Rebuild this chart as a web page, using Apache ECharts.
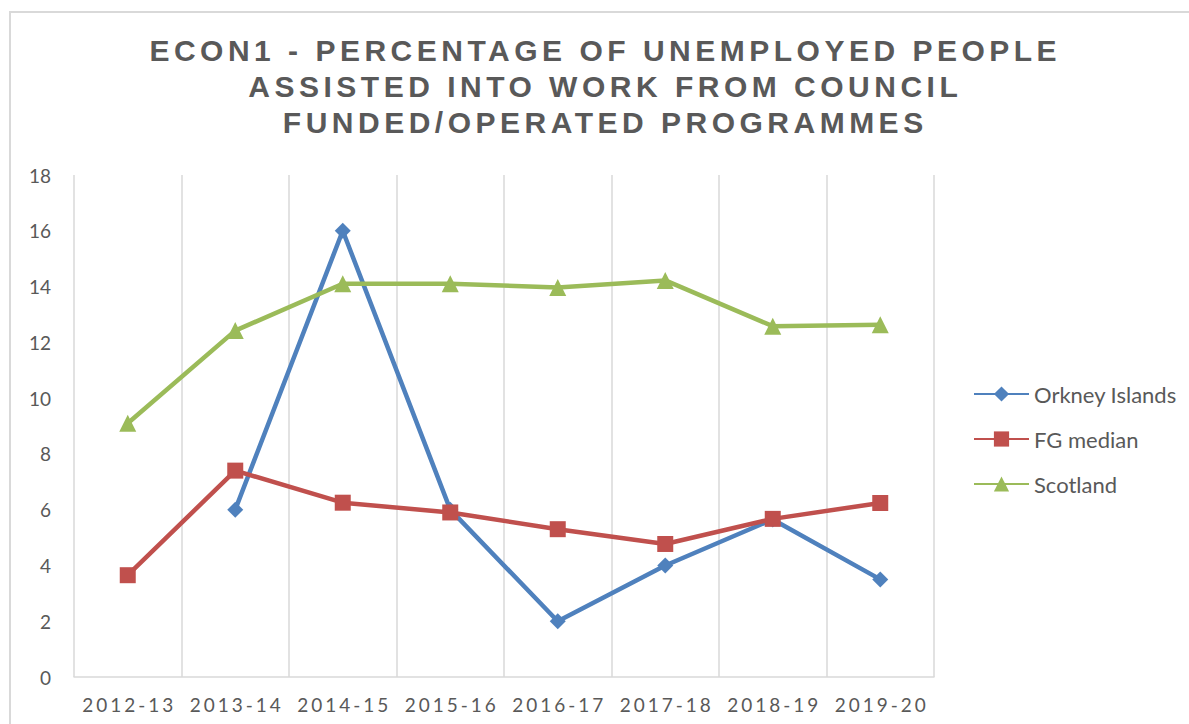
<!DOCTYPE html>
<html>
<head>
<meta charset="utf-8">
<script src="https://cdn.jsdelivr.net/npm/echarts@6/dist/echarts.min.js"></script>
<style>
  html, body { margin: 0; padding: 0; background: #ffffff; }
  #chart { width: 1189px; height: 724px; }
</style>
</head>
<body>
<div id="chart"></div>
<script>
const titleLines = [
  'ECON1 - PERCENTAGE OF UNEMPLOYED PEOPLE',
  'ASSISTED INTO WORK FROM COUNCIL',
  'FUNDED/OPERATED PROGRAMMES'
];
const categories = ['2012-13', '2013-14', '2014-15', '2015-16', '2016-17', '2017-18', '2018-19', '2019-20'];
const orkneyIslands = [null, 6.0, 16.0, 6.0, 2.0, 4.0, 5.65, 3.5];
const fgMedian = [3.65, 7.4, 6.25, 5.9, 5.3, 4.77, 5.67, 6.24];
const scotland = [9.1, 12.42, 14.1, 14.1, 13.97, 14.22, 12.58, 12.63];
const seriesNames = ['Orkney Islands', 'FG median', 'Scotland'];
const yTicks = { min: 0, max: 18, interval: 2 };

const TEXT = '#595959';
const GRID = '#d9d9d9';
const FONT = 'Lato';

const chart = echarts.init(document.getElementById('chart'), null, { renderer: 'svg' });

const option = {
  animation: false,
  backgroundColor: '#ffffff',
  title: {
    text: titleLines.join('\n'),
    left: 598,
    top: 27,
    textAlign: 'center',
    textStyle: {
      fontFamily: 'Liberation Sans',
      fontWeight: 'bold',
      fontSize: 30,
      lineHeight: 36,
      color: TEXT
    }
  },
  graphic: [{
    type: 'rect',
    silent: true,
    z: -10,
    shape: { x: 10, y: 12, width: 1400, height: 1000 },
    style: { fill: 'none', stroke: GRID, lineWidth: 2 }
  }],
  legend: {
    orient: 'vertical',
    left: 968,
    top: 378,
    itemWidth: 55,
    itemHeight: 19,
    itemGap: 23,
    data: seriesNames,
    textStyle: { fontFamily: FONT, fontSize: 22, color: TEXT }
  },
  grid: { left: 74, right: 255, top: 175, bottom: 47, containLabel: false },
  xAxis: {
    type: 'category',
    data: categories,
    boundaryGap: true,
    axisLine: { show: true, lineStyle: { color: GRID, width: 1.5 } },
    axisTick: { show: false },
    axisLabel: { color: TEXT, fontFamily: FONT, fontSize: 19, margin: 18 },
    splitLine: { show: true, lineStyle: { color: GRID, width: 1.5 } }
  },
  yAxis: {
    type: 'value',
    min: yTicks.min,
    max: yTicks.max,
    interval: yTicks.interval,
    axisLine: { show: false },
    axisTick: { show: false },
    splitLine: { show: false },
    axisLabel: { color: TEXT, fontFamily: FONT, fontSize: 19, margin: 23 }
  },
  series: [
    {
      name: seriesNames[0], type: 'line', data: orkneyIslands,
      symbol: 'diamond', symbolSize: 16,
      lineStyle: { color: '#4f81bd', width: 4.5 },
      itemStyle: { color: '#4f81bd' }
    },
    {
      name: seriesNames[1], type: 'line', data: fgMedian,
      symbol: 'rect', symbolSize: 16,
      lineStyle: { color: '#c0504d', width: 4.5 },
      itemStyle: { color: '#c0504d' }
    },
    {
      name: seriesNames[2], type: 'line', data: scotland,
      symbol: 'triangle', symbolSize: 17,
      lineStyle: { color: '#9bbb59', width: 4.5 },
      itemStyle: { color: '#9bbb59' }
    }
  ]
};

function applySpacing() {
  const texts = document.querySelectorAll('#chart svg text');
  texts.forEach(t => {
    const s = (t.textContent || '').trim();
    let sp = null;
    if (titleLines.includes(s)) sp = 4.5;
    else if (categories.includes(s)) sp = 3;
    if (sp !== null) {
      t.setAttribute('letter-spacing', sp + 'px');
      t.style.letterSpacing = sp + 'px';
      t.setAttribute('dx', (sp / 2).toString());
    }
  });
}

chart.on('rendered', applySpacing);
chart.on('finished', applySpacing);
chart.setOption(option);
applySpacing();
setTimeout(applySpacing, 50);
setTimeout(applySpacing, 300);
</script>
</body>
</html>
